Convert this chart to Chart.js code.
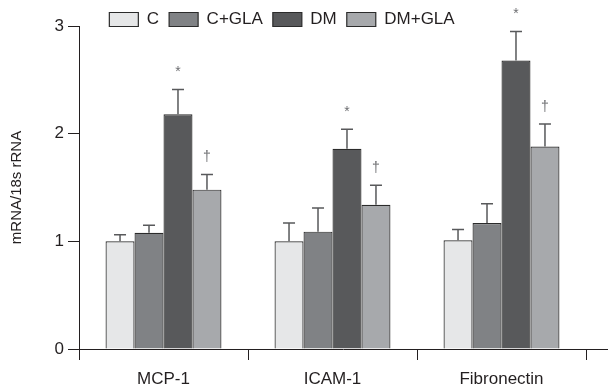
<!DOCTYPE html>
<html>
<head>
  <title>mRNA/18s rRNA</title>
  <script src="https://cdn.jsdelivr.net/npm/chart.js"></script>
  <style>
    html, body { margin: 0; padding: 0; background: #fff; }
    #wrap { width: 608px; height: 388px; }
  </style>
</head>
<body>
  <div id="wrap"><canvas id="geneChart"></canvas></div>

  <script>
    // values
    const categories = ['MCP-1', 'ICAM-1', 'Fibronectin'];
    const groupNames = ['C', 'C+GLA', 'DM', 'DM+GLA'];
    const yTicks = [0, 1, 2, 3];

    const cMean = [1.00, 1.00, 1.01];
    const cErr = [0.06, 0.17, 0.10];
    const cGlaMean = [1.08, 1.09, 1.17];
    const cGlaErr = [0.07, 0.22, 0.18];
    const dmMean = [2.18, 1.86, 2.68];
    const dmErr = [0.23, 0.18, 0.27];
    const dmGlaMean = [1.48, 1.34, 1.88];
    const dmGlaErr = [0.14, 0.18, 0.21];

    const dmMarks = ['*', '*', '*'];
    const dmGlaMarks = ['\u2020', '\u2020', '\u2020'];

    const FONT = "'Liberation Sans', Arial, sans-serif";
    const INK = '#231f20';

    // error bars, significance marks and the long x axis line
    const errorBars = {
      id: 'errorBars',
      afterDatasetsDraw(chart) {
        const ctx = chart.ctx;
        const y = chart.scales.y;
        chart.data.datasets.forEach((ds, di) => {
          const meta = chart.getDatasetMeta(di);
          meta.data.forEach((bar, i) => {
            const top = y.getPixelForValue(ds.data[i] + ds.errors[i]);
            const x = bar.x;
            ctx.save();
            ctx.strokeStyle = '#58595b';
            ctx.lineWidth = 1.5;
            ctx.beginPath();
            ctx.moveTo(x, bar.y);
            ctx.lineTo(x, top);
            ctx.moveTo(x - 6, top);
            ctx.lineTo(x + 6, top);
            ctx.stroke();
            if (ds.marks && ds.marks[i]) {
              ctx.fillStyle = '#6d6e71';
              ctx.font = '14px ' + FONT;
              ctx.textAlign = 'center';
              ctx.textBaseline = 'middle';
              ctx.fillText(ds.marks[i], x, top - 17);
            }
            ctx.restore();
          });
        });
        const area = chart.chartArea;
        const y0 = Math.round(y.getPixelForValue(0)) + 0.5;
        ctx.save();
        ctx.strokeStyle = INK;
        ctx.lineWidth = 1;
        ctx.beginPath();
        ctx.moveTo(area.left, y0);
        ctx.lineTo(chart.width, y0);
        ctx.stroke();
        ctx.restore();
      },
      afterUpdate(chart) {
        // legend box is clipped, so move both edges
        const lg = chart.legend;
        lg.left -= 11;
        lg.right -= 11;
        lg.top += 12;
        lg.bottom += 12;
      }
    };

    function makeSet(label, data, errors, color, marks) {
      return {
        label: label,
        data: data,
        errors: errors,
        marks: marks,
        backgroundColor: color,
        borderColor: '#2b2b2b',
        borderWidth: 1.2
      };
    }

    const ctx = document.getElementById('geneChart').getContext('2d');
    const chart = new Chart(ctx, {
      type: 'bar',
      data: {
        labels: categories,
        datasets: [
          makeSet(groupNames[0], cMean, cErr, '#e6e7e8'),
          makeSet(groupNames[1], cGlaMean, cGlaErr, '#808285'),
          makeSet(groupNames[2], dmMean, dmErr, '#58595b', dmMarks),
          makeSet(groupNames[3], dmGlaMean, dmGlaErr, '#a7a9ac', dmGlaMarks)
        ]
      },
      options: {
        responsive: true,
        maintainAspectRatio: false,
        animation: false,
        layout: { padding: { right: 22, top: -11, bottom: 0, left: 0 } },
        datasets: {
          bar: { categoryPercentage: 0.686, barPercentage: 1.0 }
        },
        plugins: {
          legend: {
            position: 'top',
            labels: {
              boxWidth: 29,
              boxHeight: 14,
              padding: 10,
              color: INK,
              font: { family: FONT, size: 17 }
            }
          },
          tooltip: { enabled: false }
        },
        scales: {
          x: {
            grid: {
              offset: true,
              drawOnChartArea: false,
              tickLength: 11,
              color: (c) => c.index === categories.length ? 'rgba(0,0,0,0)' : INK
            },
            border: { display: false },
            ticks: { color: INK, padding: 9, font: { family: FONT, size: 17 } },
            afterFit(scale) { scale.height = 39; }
          },
          y: {
            min: 0,
            max: 3,
            afterBuildTicks(scale) {
              scale.ticks = yTicks.map(v => ({ value: v }));
            },
            grid: { drawOnChartArea: false, tickLength: 11, color: INK },
            border: { color: INK, width: 1 },
            ticks: { color: INK, padding: 4, font: { family: FONT, size: 17 } },
            title: {
              display: true,
              text: 'mRNA/18s rRNA',
              color: INK,
              font: { family: FONT, size: 15 },
              padding: { top: 8, bottom: 0 }
            },
            afterFit(scale) { scale.width = 79; }
          }
        }
      },
      plugins: [errorBars]
    });
  </script>
</body>
</html>
